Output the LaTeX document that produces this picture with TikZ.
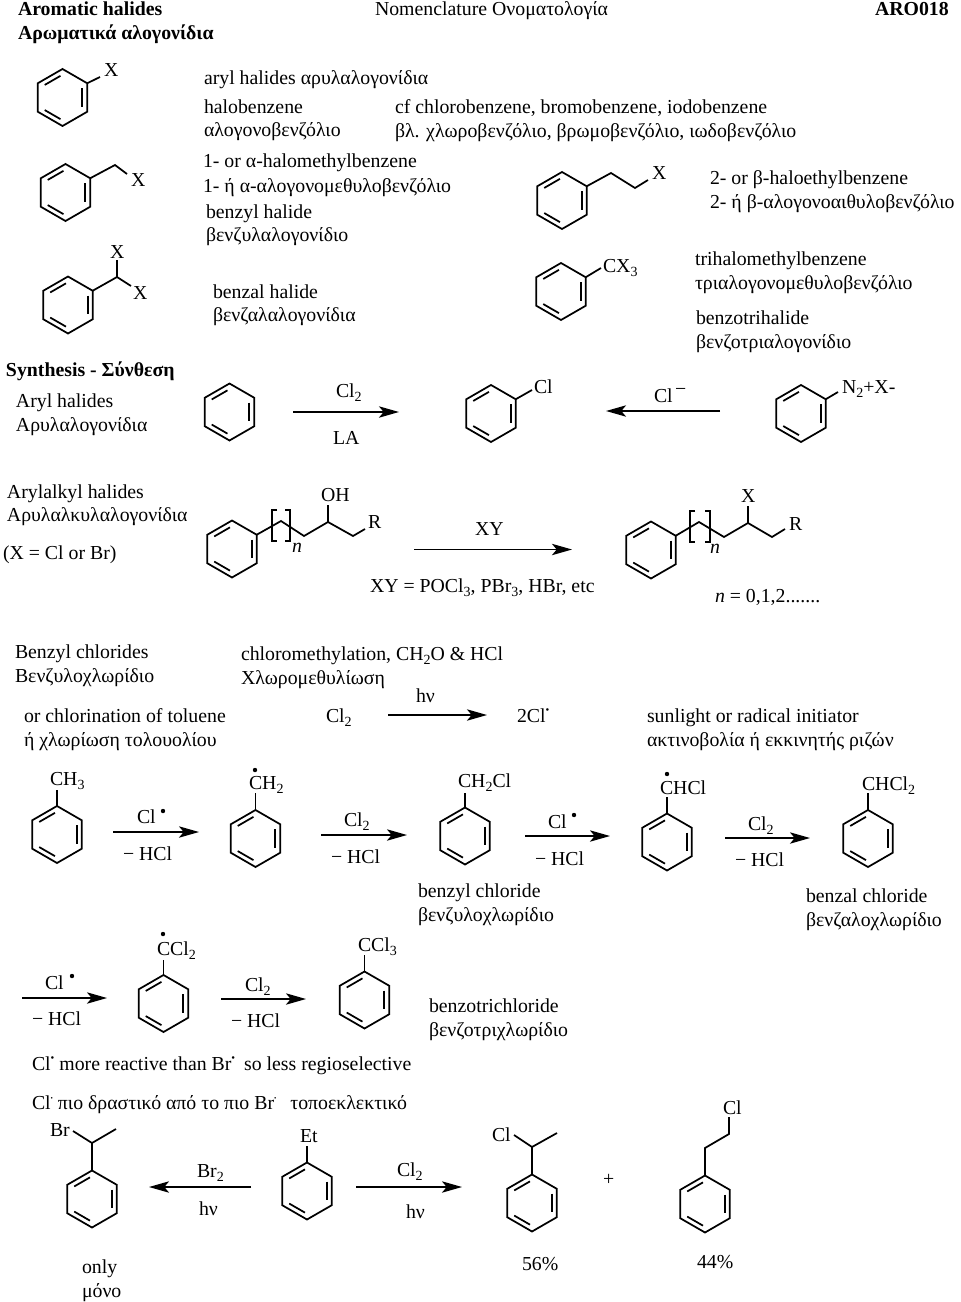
\documentclass[tikz,border=0pt]{standalone}
\usepackage{fontspec}
\setmainfont{Liberation Serif}
\usetikzlibrary{arrows.meta}
\newcounter{tn}
\newcommand\lbl[3]{\stepcounter{tn}\node[lab] (t\arabic{tn}) at (#1,#2) {#3};}
\newcommand\pnt[3]{\coordinate (#1) at (#2,#3);}
\newcommand\subn[1]{\raisebox{-0.25em}{\fontsize{10.5}{10.5}\selectfont #1}}
\newcommand\rads{\raisebox{0.45em}{\fontsize{8}{8}\selectfont •}}
\newcommand\radt{\raisebox{0.42em}{\fontsize{5}{5}\selectfont •}}
\newcommand\benz[3]{%
\begin{scope}[shift={(#2,#3)}]
\coordinate (#1t) at (0,-28.5);
\coordinate (#1ur) at (24.7,-14.25);
\coordinate (#1lr) at (24.7,14.25);
\coordinate (#1b) at (0,28.5);
\coordinate (#1ll) at (-24.7,14.25);
\coordinate (#1ul) at (-24.7,-14.25);
\draw[bond] (#1t)--(#1ur)--(#1lr)--(#1b)--(#1ll)--(#1ul)--cycle;
\draw[bond] (19.76,-9.3)--(19.76,9.3);
\draw[bond] (-2,-21.66)--(-17.8,-12.54);
\draw[bond] (-2,21.66)--(-17.8,12.54);
\end{scope}}
\newcommand\rxn[4]{\coordinate (#1s) at (#2,#3); \coordinate (#1e) at (#4,#3); \draw[rxnarrow] (#1s) -- (#1e);}
\newcommand\dotat[3]{\coordinate (#1) at (#2,#3); \fill (#1) circle (2.2);}
\tikzset{
 x=0.75pt,y=-0.75pt,
 lab/.style={anchor=base west,inner sep=0pt,outer sep=0pt,font=\fontsize{14.85}{18}\selectfont},
 bond/.style={line width=1.3pt,line join=miter},
 rxnarrow/.style={line width=1.3pt,-{Stealth[length=15pt,width=8.5pt,inset=3.5pt]}},
}
\begin{document}
\begin{tikzpicture}
\useasboundingbox (0,0) rectangle (960,1302);
\fill[white] (0,0) rectangle (960,1302);
% header
\lbl{18}{16}{\textbf{Aromatic halides}}
\lbl{18}{40}{\textbf{Αρωματικά αλογονίδια}}
\lbl{375}{16}{Nomenclature Ονοματολογία}
\lbl{875}{16}{\textbf{ARO018}}
% nomenclature
\benz{a}{62.5}{97.5}
\pnt{a1}{100}{77} \draw[bond] (aur)--(a1);
\lbl{104}{77}{X}
\lbl{204}{85}{aryl halides αρυλαλογονίδια}
\lbl{204}{114}{halobenzene}
\lbl{204}{137}{αλογονοβενζόλιο}
\lbl{395}{114}{cf chlorobenzene, bromobenzene, iodobenzene}
\lbl{395}{138}{βλ. χλωροβενζόλιο, βρωμοβενζόλιο, ιωδοβενζόλιο}
\benz{b}{65.5}{192.5}
\pnt{b1}{115}{165}\pnt{b2}{127}{174} \draw[bond] (bur)--(b1)--(b2);
\lbl{131}{186}{X}
\lbl{203}{167}{1- or α-halomethylbenzene}
\lbl{203}{192}{1- ή α-αλογονομεθυλοβενζόλιο}
\lbl{206}{218}{benzyl halide}
\lbl{206}{241}{βενζυλαλογονίδιο}
\benz{c}{68}{305}
\pnt{c1}{117}{277}\pnt{c2}{117}{260}\pnt{c3}{131}{286}
\draw[bond] (cur)--(c1)--(c2); \draw[bond] (c1)--(c3);
\lbl{110}{258}{X}
\lbl{133}{299}{X}
\lbl{213}{298}{benzal halide}
\lbl{213}{321}{βενζαλαλογονίδια}
\benz{d}{562}{200.5}
\pnt{d1}{611}{173}\pnt{d2}{635}{188}\pnt{d3}{648}{180}
\draw[bond] (dur)--(d1)--(d2)--(d3);
\lbl{652}{180}{X}
\lbl{710}{185}{2- or β-haloethylbenzene}
\lbl{710}{208}{2- ή β-αλογονοαιθυλοβενζόλιο}
\benz{e}{561}{291.5}
\pnt{e1}{601}{268} \draw[bond] (eur)--(e1);
\lbl{603}{272}{CX\subn{3}}
\lbl{695}{265}{trihalomethylbenzene}
\lbl{695}{289}{τριαλογονομεθυλοβενζόλιο}
\lbl{696}{324}{benzotrihalide}
\lbl{696}{348}{βενζοτριαλογονίδιο}
% synthesis
\lbl{6}{376}{\textbf{Synthesis - Σύνθεση}}
\lbl{16}{407}{Aryl halides}
\lbl{16}{431}{Αρυλαλογονίδια}
\benz{f}{229.5}{412}
\rxn{r1}{293}{412}{399}
\lbl{336}{397}{Cl\subn{2}}
\lbl{333}{444}{LA}
\benz{g}{491}{413.5}
\pnt{g1}{532}{390} \draw[bond] (gur)--(g1);
\lbl{534}{393}{Cl}
\rxn{r2}{720}{411}{606}
\lbl{654}{402}{Cl}
\lbl{675}{395}{−}
\benz{h}{801}{413.5}
\pnt{h1}{838}{392} \draw[bond] (hur)--(h1);
\lbl{842}{393}{N\subn{2}+X-}
% arylalkyl
\lbl{7}{498}{Arylalkyl halides}
\lbl{7}{521}{Αρυλαλκυλαλογονίδια}
\lbl{3}{559}{(X = Cl or Br)}
\benz{i}{232}{549}
\pnt{i1}{281}{521}\pnt{i2}{304}{536}\pnt{i3}{328}{522}\pnt{i4}{353}{536}\pnt{i5}{365}{529}\pnt{i6}{328}{505}
\draw[bond] (iur)--(i1)--(i2)--(i3)--(i4)--(i5); \draw[bond] (i3)--(i6);
\draw[bond] (277,510)--(272,510)--(272,541)--(277,541);
\draw[bond] (285,510)--(290,510)--(290,541)--(285,541);
\lbl{292}{552}{\textit{n}}
\lbl{321}{501}{OH}
\lbl{368}{528}{R}
\rxn{r3}{414}{549.5}{572}
\lbl{475}{535}{XY}
\lbl{370}{592}{XY = POCl\subn{3}, PBr\subn{3}, HBr, etc}
\benz{j}{651}{550}
\pnt{j1}{699}{522}\pnt{j2}{724}{537}\pnt{j3}{748}{523}\pnt{j4}{772}{537}\pnt{j5}{785}{529}\pnt{j6}{748}{506}
\draw[bond] (jur)--(j1)--(j2)--(j3)--(j4)--(j5); \draw[bond] (j3)--(j6);
\draw[bond] (695,511)--(690,511)--(690,542)--(695,542);
\draw[bond] (705,511)--(710,511)--(710,542)--(705,542);
\lbl{710}{553}{\textit{n}}
\lbl{741}{502}{X}
\lbl{789}{530}{R}
\lbl{715}{602}{\textit{n} = 0,1,2.......}
% benzyl chlorides
\lbl{15}{658}{Benzyl chlorides}
\lbl{15}{682}{Βενζυλοχλωρίδιο}
\lbl{241}{660}{chloromethylation, CH\subn{2}O \& HCl}
\lbl{241}{684}{Χλωρομεθυλίωση}
\lbl{416}{702}{hν}
\lbl{24}{722}{or chlorination of toluene}
\lbl{24}{746}{ή χλωρίωση τολουολίου}
\lbl{326}{722}{Cl\subn{2}}
\rxn{r4}{388}{715}{487}
\lbl{517}{722}{2Cl\rads}
\lbl{647}{722}{sunlight or radical initiator}
\lbl{647}{746}{ακτινοβολία ή εκκινητής ριζών}
% row 1
\benz{k}{57}{834.5}
\pnt{k1}{57}{790} \draw[bond] (kt)--(k1);
\lbl{50}{785}{CH\subn{3}}
\rxn{r5}{113}{832}{199}
\lbl{137}{823}{Cl} \dotat{kd}{163}{811}
\lbl{123}{860}{− HCl}
\benz{l}{255.5}{838.5}
\pnt{l1}{255.5}{793} \draw[bond] (lt)--(l1);
\dotat{ld}{255}{770}
\lbl{249}{789}{CH\subn{2}}
\rxn{r6}{321}{835}{407}
\lbl{344}{826}{Cl\subn{2}}
\lbl{331}{863}{− HCl}
\benz{m}{465}{836}
\pnt{m1}{465}{793} \draw[bond] (mt)--(m1);
\lbl{458}{787}{CH\subn{2}Cl}
\rxn{r7}{525}{836}{610}
\lbl{548}{828}{Cl} \dotat{md}{574}{815}
\lbl{535}{865}{− HCl}
\lbl{418}{897}{benzyl chloride}
\lbl{418}{921}{βενζυλοχλωρίδιο}
\benz{o}{667}{842}
\pnt{o1}{667}{797} \draw[bond] (ot)--(o1);
\dotat{od}{667}{774}
\lbl{660}{794}{CHCl}
\rxn{r8}{725}{838}{810}
\lbl{748}{830}{Cl\subn{2}}
\lbl{735}{866}{− HCl}
\benz{p}{868}{838.5}
\pnt{p1}{868}{793} \draw[bond] (pt)--(p1);
\lbl{862}{790}{CHCl\subn{2}}
\lbl{806}{902}{benzal chloride}
\lbl{806}{926}{βενζαλοχλωρίδιο}
% row 2
\rxn{r9}{22}{998}{107}
\lbl{45}{989}{Cl} \dotat{qd}{72}{976}
\lbl{32}{1025}{− HCl}
\benz{q}{163.5}{1003.5}
\pnt{q1}{163.5}{960} \draw[bond] (qt)--(q1);
\dotat{qe}{163}{934}
\lbl{157}{955}{CCl\subn{2}}
\rxn{r10}{221}{999}{306}
\lbl{245}{991}{Cl\subn{2}}
\lbl{231}{1027}{− HCl}
\benz{s}{364.5}{1000}
\pnt{s1}{364.5}{955} \draw[bond] (st)--(s1);
\lbl{358}{951}{CCl\subn{3}}
\lbl{429}{1012}{benzotrichloride}
\lbl{429}{1036}{βενζοτριχλωρίδιο}
\lbl{32}{1070}{Cl\rads{} more reactive than Br\rads{} \hspace{3pt}so less regioselective}
\lbl{32}{1109}{Cl\radt{} πιο δραστικό από το πιο Br\radt{}\ \ \hspace{3pt}τοποεκλεκτικό}
% bottom row
\benz{u}{92}{1199}
\pnt{u1}{92}{1143}\pnt{u2}{116}{1129}\pnt{u3}{73}{1131}
\draw[bond] (ut)--(u1)--(u2); \draw[bond] (u1)--(u3);
\lbl{50}{1136}{Br}
\rxn{r11}{251}{1187}{149}
\lbl{197}{1177}{Br\subn{2}}
\lbl{199}{1215}{hν}
\benz{v}{307}{1191}
\pnt{v1}{307}{1146} \draw[bond] (vt)--(v1);
\lbl{300}{1142}{Et}
\rxn{r12}{356}{1187}{462}
\lbl{397}{1176}{Cl\subn{2}}
\lbl{406}{1218}{hν}
\benz{w}{532}{1203}
\pnt{w1}{532}{1147}\pnt{w2}{557}{1133}\pnt{w3}{514}{1135}
\draw[bond] (wt)--(w1)--(w2); \draw[bond] (w1)--(w3);
\lbl{492}{1141}{Cl}
\lbl{603}{1185}{+}
\benz{z}{705}{1204}
\pnt{z1}{705}{1148}\pnt{z2}{729}{1134}\pnt{z3}{729}{1117}
\draw[bond] (zt)--(z1)--(z2)--(z3);
\lbl{723}{1114}{Cl}
\lbl{82}{1273}{only}
\lbl{82}{1297}{μόνο}
\lbl{522}{1270}{56\%}
\lbl{697}{1268}{44\%}
\end{tikzpicture}
\end{document}
